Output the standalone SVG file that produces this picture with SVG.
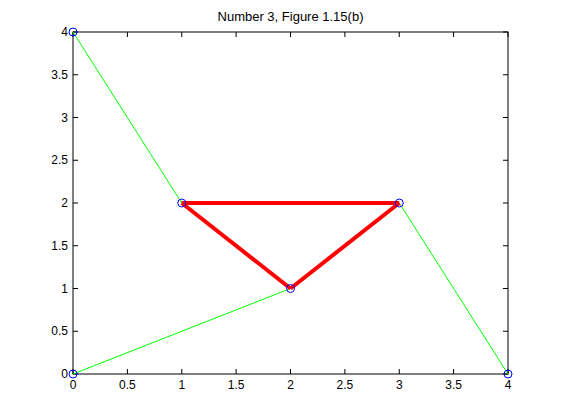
<svg xmlns="http://www.w3.org/2000/svg" width="561" height="420" viewBox="0 0 561 420">
<style>
.ax{fill:none;stroke:#000;stroke-width:1}
.tk{stroke:#000;stroke-width:1}
.lbl{font-family:"Liberation Sans",Arial,sans-serif;font-size:12px;fill:#000}
.ttl{font-family:"Liberation Sans",Arial,sans-serif;font-size:13px;fill:#000}
.g{stroke:#00ff00;stroke-width:1;fill:none}
.r{stroke:#ff0000;stroke-width:4;fill:none;stroke-linecap:butt;stroke-linejoin:miter}
.m{fill:none;stroke:#0000ff;stroke-width:1}
</style>
<rect width="561" height="420" fill="#fff"/>
<g id="axes">
<rect class="ax" x="73" y="32" width="435" height="342"/>
<path class="tk" d="M73,374v-5M127.4,374v-5M181.75,374v-5M236.1,374v-5M290.5,374v-5M344.9,374v-5M399.25,374v-5M453.6,374v-5M508,374v-5
M73,32v5M127.4,32v5M181.75,32v5M236.1,32v5M290.5,32v5M344.9,32v5M399.25,32v5M453.6,32v5M508,32v5
M73,374h5M73,331.25h5M73,288.5h5M73,245.75h5M73,203h5M73,160.25h5M73,117.5h5M73,74.75h5M73,32h5
M508,374h-5M508,331.25h-5M508,288.5h-5M508,245.75h-5M508,203h-5M508,160.25h-5M508,117.5h-5M508,74.75h-5M508,32h-5"/>
<g class="lbl" text-anchor="middle">
<text x="73" y="389">0</text><text x="127.4" y="389">0.5</text><text x="181.75" y="389">1</text><text x="236.1" y="389">1.5</text><text x="290.5" y="389">2</text><text x="344.9" y="389">2.5</text><text x="399.25" y="389">3</text><text x="453.6" y="389">3.5</text><text x="508" y="389">4</text>
</g>
<g class="lbl" text-anchor="end">
<text x="68" y="378">0</text><text x="68" y="335.25">0.5</text><text x="68" y="292.5">1</text><text x="68" y="249.75">1.5</text><text x="68" y="207">2</text><text x="68" y="164.25">2.5</text><text x="68" y="121.5">3</text><text x="68" y="78.75">3.5</text><text x="68" y="36">4</text>
</g>
<text class="ttl" x="290.5" y="21" text-anchor="middle">Number 3, Figure 1.15(b)</text>
</g>
<g id="connectors">
<line class="g" x1="73" y1="32" x2="181.75" y2="203"/>
<line class="g" x1="73" y1="374" x2="290.5" y2="288.5"/>
<line class="g" x1="399.25" y1="203" x2="508" y2="374"/>
<line class="r" x1="181.75" y1="203" x2="399.25" y2="203"/>
<line class="r" x1="181.75" y1="203" x2="290.5" y2="288.5"/>
<line class="r" x1="290.5" y1="288.5" x2="399.25" y2="203"/>
</g>
<g id="n1"><circle class="m" cx="73" cy="374" r="4"/></g>
<g id="n2"><circle class="m" cx="290.5" cy="288.5" r="4"/></g>
<g id="n3"><circle class="m" cx="181.75" cy="203" r="4"/></g>
<g id="n4"><circle class="m" cx="399.25" cy="203" r="4"/></g>
<g id="n5"><circle class="m" cx="73" cy="32" r="4"/></g>
<g id="n6"><circle class="m" cx="508" cy="374" r="4"/></g>
</svg>
